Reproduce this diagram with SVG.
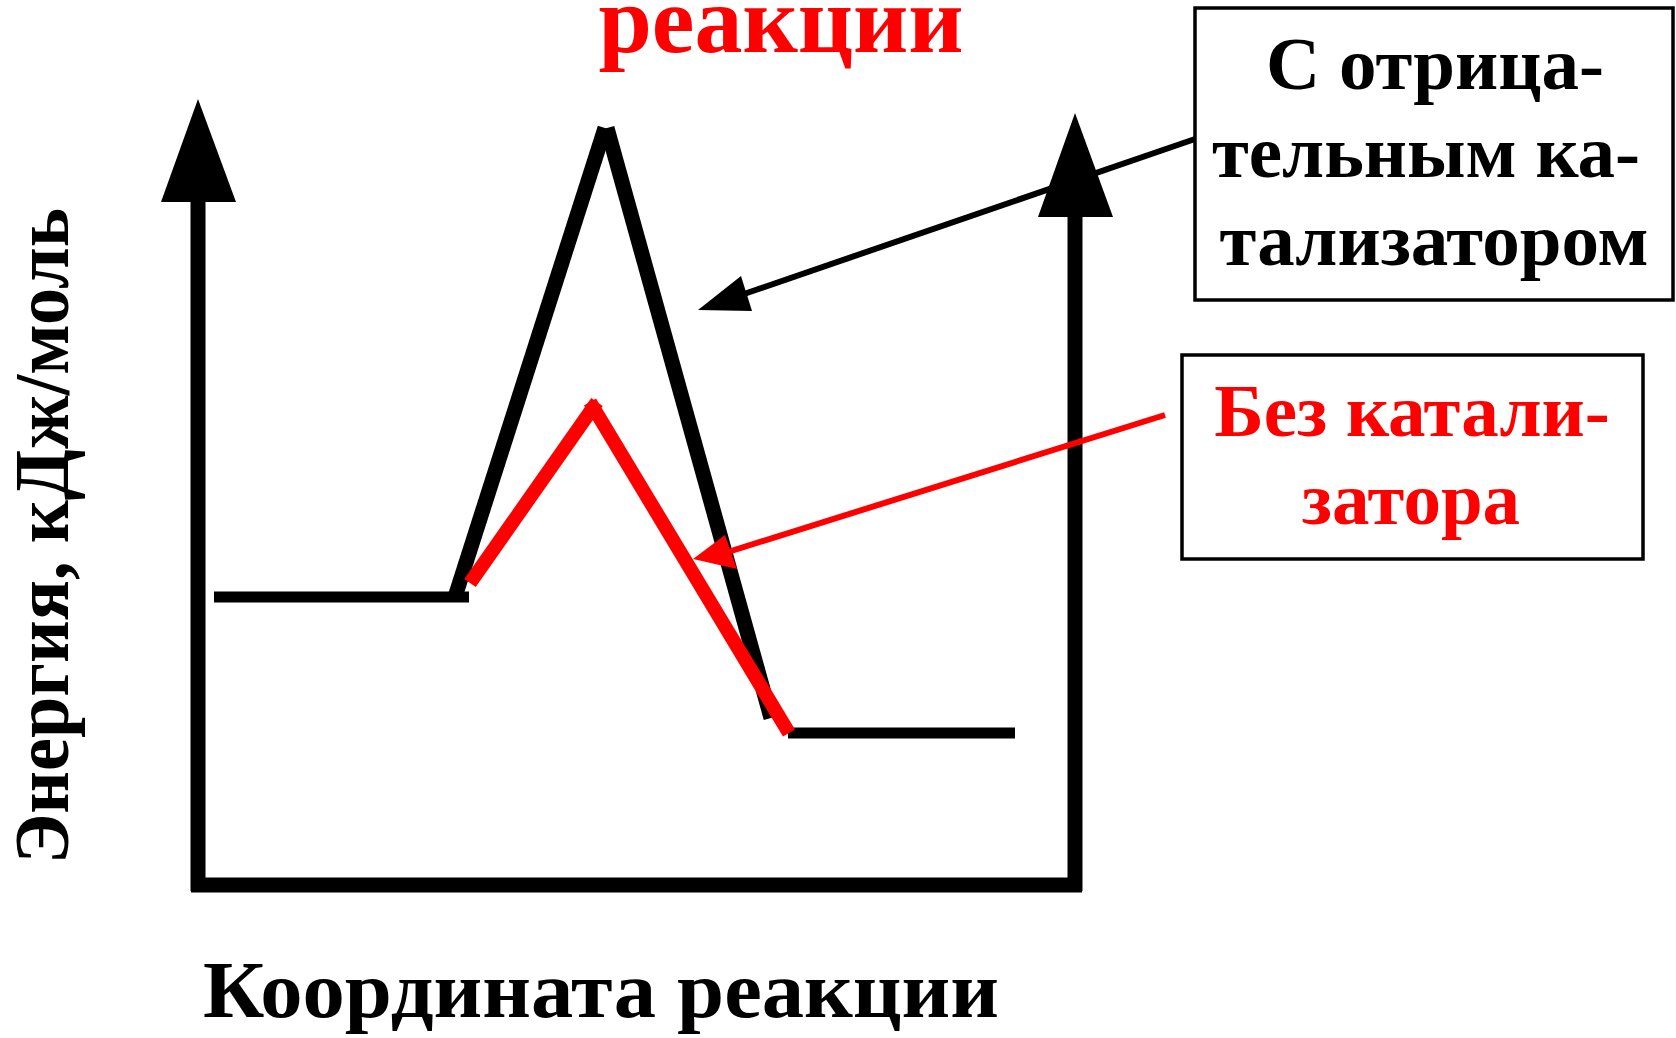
<svg xmlns="http://www.w3.org/2000/svg" width="1676" height="1038" viewBox="0 0 1676 1038">
<style>
.t{font-family:"Liberation Serif","Times New Roman",serif;font-weight:bold;}
.blk{fill:#000}
.red{fill:#ff0000}
.ax{stroke:#000;stroke-width:15;fill:none}
.ch{stroke:#000;stroke-width:11;fill:none}
.cb{stroke:#000;stroke-width:15;fill:none}
.cr{stroke:#ff0000;stroke-width:14;fill:none}
.box{fill:#fff;stroke:#000;stroke-width:3.5}
</style>
<rect width="1676" height="1038" fill="#fff"/>
<text class="t red" x="781" y="52" font-size="96" text-anchor="middle">реакции</text>
<g id="axes">
<line class="ax" x1="198" y1="195" x2="198" y2="891"/>
<line class="ax" x1="1075" y1="210" x2="1075" y2="891"/>
<line class="ax" x1="191" y1="885" x2="1082" y2="885"/>
<polygon class="blk" points="198,99 236,202 161,202"/>
<polygon class="blk" points="1075,113 1113,217 1038,217"/>
</g>
<g id="curve-catalyst">
<line class="ch" x1="214" y1="597" x2="469" y2="597"/>
<line class="cb" x1="455" y1="597" x2="605" y2="128"/>
<line class="cb" x1="607" y1="128" x2="771" y2="718"/>
<line class="ch" x1="788" y1="733" x2="1015" y2="733"/>
</g>
<g id="curve-nocatalyst">
<line class="cr" x1="470" y1="583" x2="597" y2="402"/>
<line class="cr" x1="590" y1="402" x2="789" y2="733"/>
</g>
<g id="connectors">
<line stroke="#000" stroke-width="6" x1="1195" y1="139" x2="744" y2="294"/>
<polygon class="blk" points="698,310 741,276 752,311"/>
<line stroke="#ff0000" stroke-width="6" x1="1165" y1="415" x2="728" y2="552"/>
<polygon class="red" points="693,559 725,535 737,569"/>
</g>
<g id="box-catalyst">
<rect class="box" x="1195" y="8" width="478" height="292"/>
<text class="t blk" font-size="75" text-anchor="middle"><tspan x="1435" y="89">С отрица-</tspan><tspan x="1426" y="177">тельным ка-</tspan><tspan x="1434" y="265">тализатором</tspan></text>
</g>
<g id="box-nocatalyst">
<rect class="box" x="1182" y="355" width="461" height="204"/>
<text class="t red" font-size="75" text-anchor="middle"><tspan x="1412" y="436">Без катали-</tspan><tspan x="1411" y="524">затора</tspan></text>
</g>
<text class="t blk" font-size="78" x="0" y="0" text-anchor="middle" textLength="656" lengthAdjust="spacingAndGlyphs" transform="translate(68,536) rotate(-90)">Энергия, кДж/моль</text>
<text class="t blk" x="203" y="1017" font-size="80" textLength="796" lengthAdjust="spacingAndGlyphs">Координата реакции</text>
</svg>
